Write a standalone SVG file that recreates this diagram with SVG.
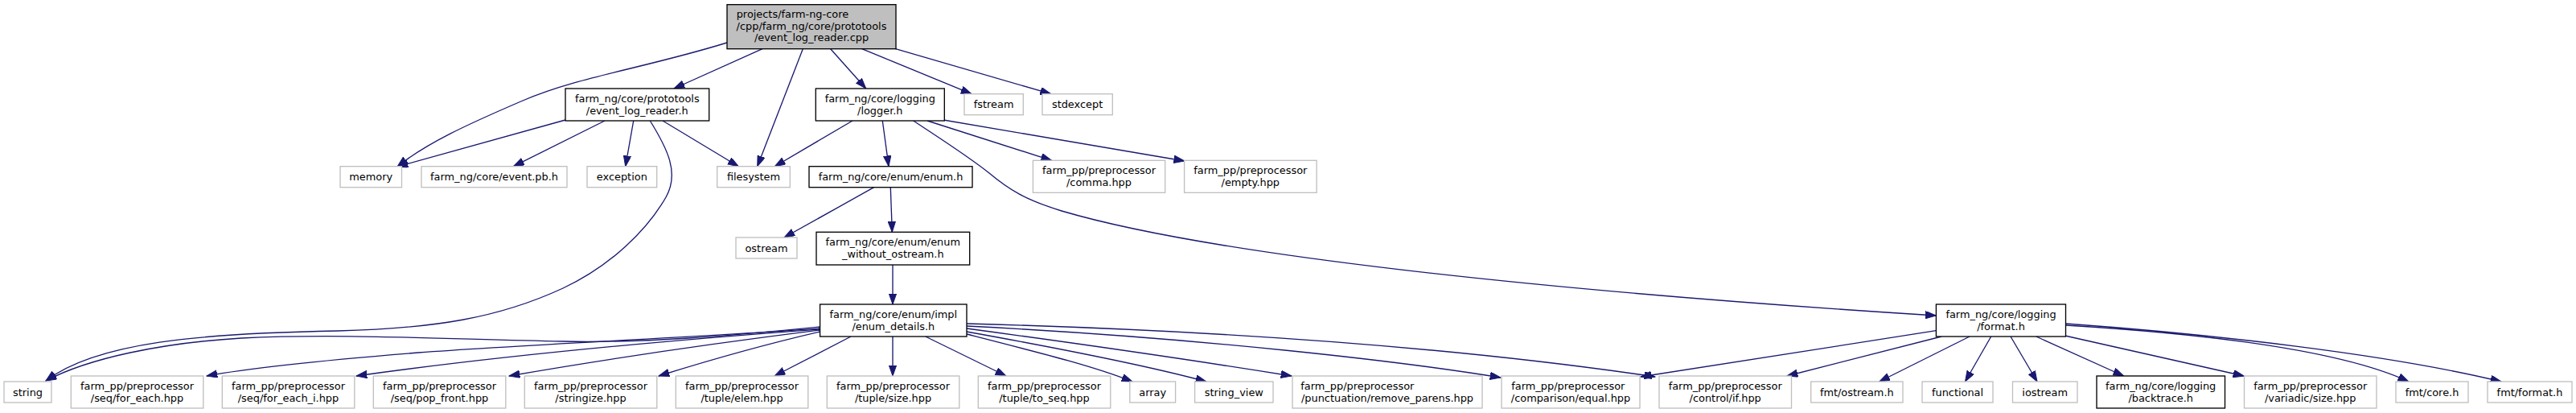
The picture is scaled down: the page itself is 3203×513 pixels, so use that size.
<svg xmlns="http://www.w3.org/2000/svg" width="3203" height="513" viewBox="0 0 3203 513">
<style>
text{font-family:"DejaVu Sans","Liberation Sans",sans-serif;font-size:12.9px;fill:#000;text-anchor:middle}
.l{text-anchor:start}
.n rect{fill:#fff;stroke:#000;stroke-width:1.33}
.u rect{fill:#fff;stroke:#bfbfbf;stroke-width:1.33}
.r rect{fill:#bfbfbf;stroke:#000;stroke-width:1.33}
#edges path{fill:none;stroke:#191970;stroke-width:1.33;marker-end:url(#a)}
</style>
<defs>
<marker id="a" markerUnits="userSpaceOnUse" markerWidth="14" markerHeight="10" refX="13.3" refY="4.7" orient="auto" viewBox="0 0 14 10">
<path d="M0,0 L13.3,4.7 L0,9.4z" fill="#191970" stroke="#191970" stroke-width="1"/>
</marker>
</defs>
<rect width="3203" height="513" fill="#fff"/>
<g id="edges">
<path d="M904,53 C800,85 720,95 650,125 C580,155 530,178 494,207"/>
<path d="M948,60.7 L838,110"/>
<path d="M998.3,60.7 L941.7,206.7"/>
<path d="M1032.7,60.7 L1076.7,110"/>
<path d="M1071.7,60.7 L1208,116.7"/>
<path d="M1113.5,60.7 L1306.7,116.7"/>
<path d="M703,149 L494,207"/>
<path d="M752,150 L638.4,206.7"/>
<path d="M787.7,150 L777.7,206.7"/>
<path d="M808.3,150 C830,185 845,215 828,245 C805,285 760,330 700,358 C620,395 540,408 420,411 C250,414 120,425 57,473"/>
<path d="M824,150 L918.3,206.7"/>
<path d="M1060,150 L963.3,206.7"/>
<path d="M1097.3,150 L1105,206.7"/>
<path d="M1135.7,150 C1175,176 1205,195 1230,215 C1255,236 1275,248 1320,262 C1500,315 1900,360 2407.4,392"/>
<path d="M1153,150 L1307.6,199.3"/>
<path d="M1173,149 L1472.8,200"/>
<path d="M1086.7,232.7 L975,295"/>
<path d="M1107.3,232.7 L1109.3,288.3"/>
<path d="M1110,329 L1110,378"/>
<path d="M1019.6,406 C900,418 800,426 700,424 C550,421 420,414 300,420 C200,426 110,445 57,473"/>
<path d="M1019.6,408 C850,420 650,428 520,438 C420,446 320,455 257,467"/>
<path d="M1019.6,409 C800,425 600,445 443,467"/>
<path d="M1019.6,410 C900,425 760,445 633,467"/>
<path d="M1019.6,412 C950,428 880,448 819,467"/>
<path d="M1058,418 L963,467"/>
<path d="M1110,418 L1110,467"/>
<path d="M1150.8,418 L1251,467"/>
<path d="M1202,415 C1300,440 1360,455 1408,474"/>
<path d="M1202,412 C1330,435 1430,455 1500,474"/>
<path d="M1202,408 C1350,428 1500,450 1606,467"/>
<path d="M1202,405 C1500,420 1750,450 1866,469"/>
<path d="M1202,402 C1500,410 1800,430 2058,468"/>
<path d="M2407.4,410.7 L2040,468"/>
<path d="M2414,418 L2222,467"/>
<path d="M2449,418 L2336.7,474"/>
<path d="M2475.7,418 L2443.5,474"/>
<path d="M2500,418 L2533,474"/>
<path d="M2531.7,418 L2640.6,467"/>
<path d="M2567.7,417 L2790,467"/>
<path d="M2568.5,404 C2700,412 2900,430 2995,474"/>
<path d="M2568.5,402 C2750,415 2970,440 3110,474"/>
</g>
<g id="root" class="r"><rect x="904" y="5.7" width="210" height="55"/><text class="l" x="915.7" y="21.5">projects/farm-ng-core</text><text x="1009" y="36.5">/cpp/farm_ng/core/prototools</text><text x="1009" y="51.3">/event_log_reader.cpp</text></g>
<g id="event_log_reader_h" class="n"><rect x="703" y="110" width="178.7" height="40"/><text x="792.3" y="126.8">farm_ng/core/prototools</text><text x="792.3" y="141.8">/event_log_reader.h</text></g>
<g id="logger_h" class="n"><rect x="1014.3" y="110" width="160" height="40"/><text x="1094.3" y="126.8">farm_ng/core/logging</text><text x="1094.3" y="141.8">/logger.h</text></g>
<g id="fstream" class="u"><rect x="1199" y="116.7" width="73.3" height="26"/><text x="1235.6" y="134.2">fstream</text></g>
<g id="stdexcept" class="u"><rect x="1296" y="116.7" width="87.3" height="26"/><text x="1339.6" y="134.2">stdexcept</text></g>
<g id="memory" class="u"><rect x="423" y="206.7" width="76.5" height="26"/><text x="461.2" y="224.2">memory</text></g>
<g id="event_pb_h" class="u"><rect x="524" y="206.7" width="181" height="26"/><text x="614.5" y="224.2">farm_ng/core/event.pb.h</text></g>
<g id="exception" class="u"><rect x="730" y="206.7" width="86.7" height="26"/><text x="773.3" y="224.2">exception</text></g>
<g id="filesystem" class="u"><rect x="891.7" y="206.7" width="90.6" height="26"/><text x="937" y="224.2">filesystem</text></g>
<g id="enum_h" class="n"><rect x="1006" y="206.7" width="203" height="26"/><text x="1107.5" y="224.2">farm_ng/core/enum/enum.h</text></g>
<g id="comma_hpp" class="u"><rect x="1284.4" y="199.3" width="164.3" height="40"/><text x="1366.5" y="216.1">farm_pp/preprocessor</text><text x="1366.5" y="231.1">/comma.hpp</text></g>
<g id="empty_hpp" class="u"><rect x="1472.6" y="199.3" width="164.5" height="40"/><text x="1554.8" y="216.1">farm_pp/preprocessor</text><text x="1554.8" y="231.1">/empty.hpp</text></g>
<g id="ostream" class="u"><rect x="915" y="295" width="76" height="26"/><text x="953" y="312.5">ostream</text></g>
<g id="enum_without_ostream_h" class="n"><rect x="1015" y="288.3" width="190.7" height="40.7"/><text x="1110.3" y="305.3">farm_ng/core/enum/enum</text><text x="1110.3" y="320.3">_without_ostream.h</text></g>
<g id="enum_details_h" class="n"><rect x="1019.6" y="378" width="182.4" height="40"/><text x="1110.8" y="394.8">farm_ng/core/enum/impl</text><text x="1110.8" y="409.8">/enum_details.h</text></g>
<g id="format_h" class="n"><rect x="2407.4" y="378" width="161.1" height="40"/><text x="2488" y="394.8">farm_ng/core/logging</text><text x="2488" y="409.8">/format.h</text></g>
<g id="string" class="u"><rect x="5" y="474" width="59" height="26"/><text x="34.5" y="491.5">string</text></g>
<g id="for_each_hpp" class="u"><rect x="88.3" y="467" width="164.5" height="40"/><text x="170.5" y="483.8">farm_pp/preprocessor</text><text x="170.5" y="498.8">/seq/for_each.hpp</text></g>
<g id="for_each_i_hpp" class="u"><rect x="276.3" y="467" width="164.5" height="40"/><text x="358.5" y="483.8">farm_pp/preprocessor</text><text x="358.5" y="498.8">/seq/for_each_i.hpp</text></g>
<g id="pop_front_hpp" class="u"><rect x="464.3" y="467" width="164.5" height="40"/><text x="546.5" y="483.8">farm_pp/preprocessor</text><text x="546.5" y="498.8">/seq/pop_front.hpp</text></g>
<g id="stringize_hpp" class="u"><rect x="652.3" y="467" width="164.5" height="40"/><text x="734.5" y="483.8">farm_pp/preprocessor</text><text x="734.5" y="498.8">/stringize.hpp</text></g>
<g id="tuple_elem_hpp" class="u"><rect x="840.3" y="467" width="164.5" height="40"/><text x="922.5" y="483.8">farm_pp/preprocessor</text><text x="922.5" y="498.8">/tuple/elem.hpp</text></g>
<g id="tuple_size_hpp" class="u"><rect x="1028.3" y="467" width="164.5" height="40"/><text x="1110.5" y="483.8">farm_pp/preprocessor</text><text x="1110.5" y="498.8">/tuple/size.hpp</text></g>
<g id="tuple_to_seq_hpp" class="u"><rect x="1216.3" y="467" width="164.5" height="40"/><text x="1298.5" y="483.8">farm_pp/preprocessor</text><text x="1298.5" y="498.8">/tuple/to_seq.hpp</text></g>
<g id="array" class="u"><rect x="1404.8" y="474" width="56.8" height="26"/><text x="1433.2" y="491.5">array</text></g>
<g id="string_view" class="u"><rect x="1485.6" y="474" width="97.4" height="26"/><text x="1534.3" y="491.5">string_view</text></g>
<g id="remove_parens_hpp" class="u"><rect x="1607" y="467" width="236" height="40"/><text class="l" x="1617.3" y="483.8">farm_pp/preprocessor</text><text x="1725" y="498.8">/punctuation/remove_parens.hpp</text></g>
<g id="equal_hpp" class="u"><rect x="1867" y="467" width="172" height="40"/><text class="l" x="1879.3" y="483.8">farm_pp/preprocessor</text><text x="1953" y="498.8">/comparison/equal.hpp</text></g>
<g id="if_hpp" class="u"><rect x="2063" y="467" width="164.5" height="40"/><text x="2145.2" y="483.8">farm_pp/preprocessor</text><text x="2145.2" y="498.8">/control/if.hpp</text></g>
<g id="fmt_ostream_h" class="u"><rect x="2251.7" y="474" width="114.3" height="26"/><text x="2308.8" y="491.5">fmt/ostream.h</text></g>
<g id="functional" class="u"><rect x="2390" y="474" width="88" height="26"/><text x="2434" y="491.5">functional</text></g>
<g id="iostream" class="u"><rect x="2502.5" y="474" width="80.5" height="26"/><text x="2542.7" y="491.5">iostream</text></g>
<g id="backtrace_h" class="n"><rect x="2607" y="467" width="159.5" height="40"/><text x="2686.7" y="483.8">farm_ng/core/logging</text><text x="2686.7" y="498.8">/backtrace.h</text></g>
<g id="variadic_size_hpp" class="u"><rect x="2790.5" y="467" width="164.5" height="40"/><text x="2872.7" y="483.8">farm_pp/preprocessor</text><text x="2872.7" y="498.8">/variadic/size.hpp</text></g>
<g id="fmt_core_h" class="u"><rect x="2979" y="474" width="90" height="26"/><text x="3024" y="491.5">fmt/core.h</text></g>
<g id="fmt_format_h" class="u"><rect x="3093" y="474" width="105" height="26"/><text x="3145.5" y="491.5">fmt/format.h</text></g>
</svg>
